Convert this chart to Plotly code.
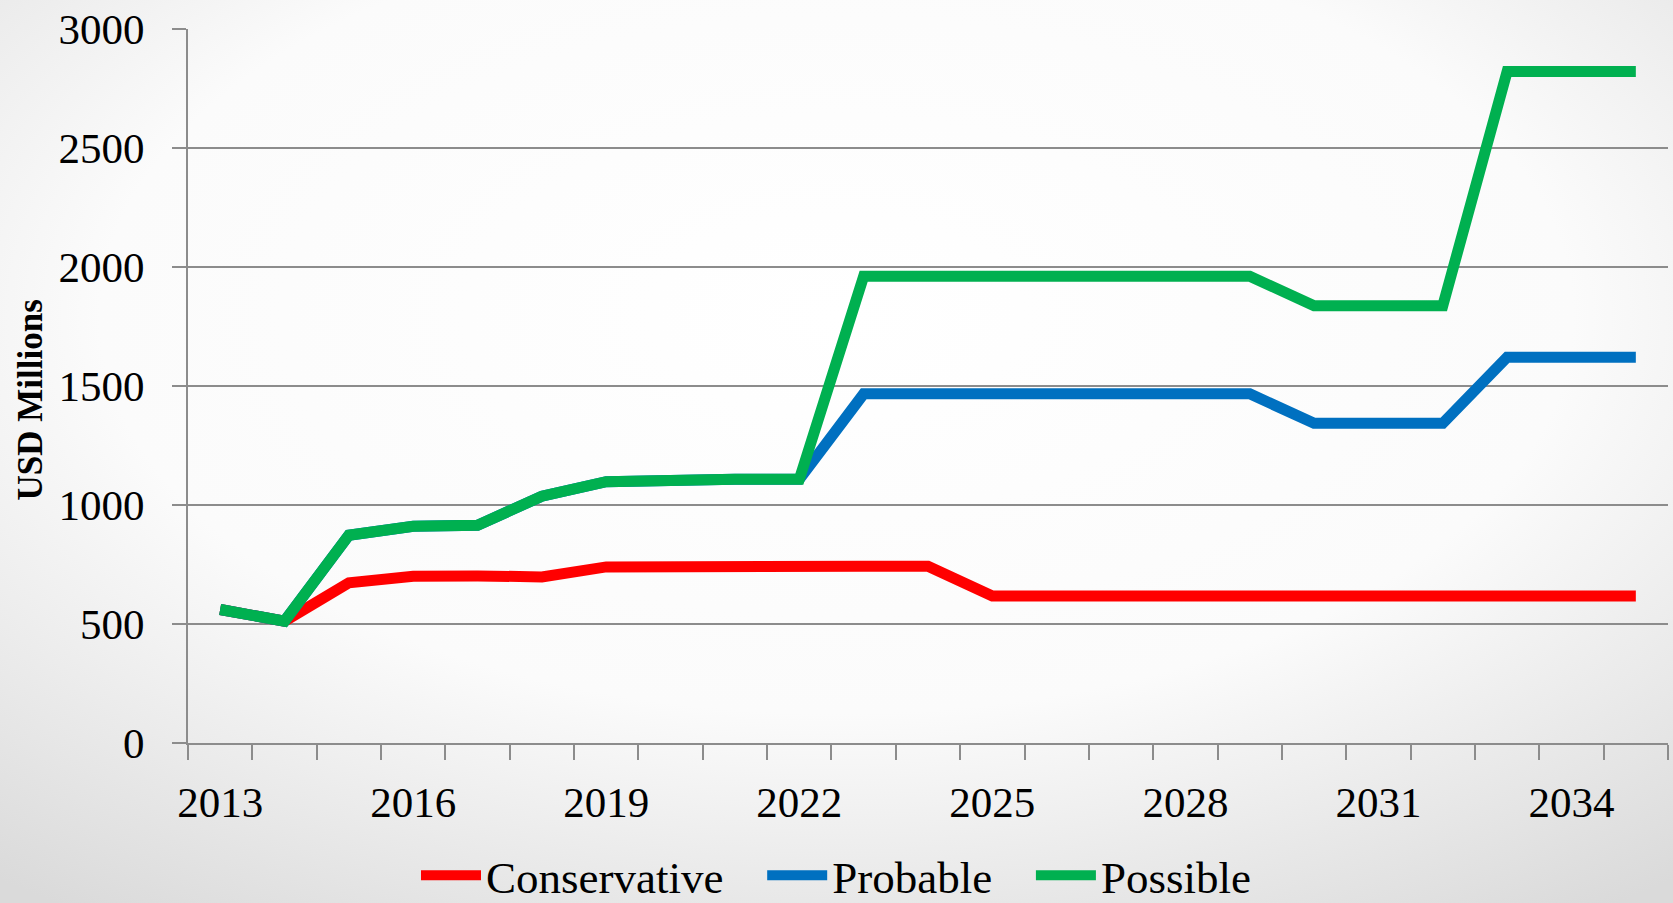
import base64
import plotly.graph_objects as go

years = list(range(2013, 2036))
conservative = [561, 512, 673, 701, 702, 698, 740, 743, 743, 743, 743, 743,
                618, 618, 618, 618, 618, 618, 618, 618, 618, 618, 618]
probable = [561, 512, 873, 911, 915, 1037, 1098, 1108, 1108, 1108, 1467, 1467,
            1467, 1467, 1467, 1467, 1467, 1343, 1343, 1343, 1621, 1621, 1621]
possible = [561, 512, 873, 911, 915, 1037, 1098, 1108, 1108, 1108, 1961, 1961,
            1961, 1961, 1961, 1961, 1961, 1837, 1837, 1837, 2821, 2821, 2821]
tick_years = list(range(2013, 2036, 3))
y_ticks = [0, 500, 1000, 1500, 2000, 2500, 3000]

series = [
    ("Conservative", conservative, "#FF0000"),
    ("Probable", probable, "#0070C0"),
    ("Possible", possible, "#00B050"),
]

FONT = "Liberation Serif"
GRID = "#8c8c8c"
PAD = "\u00a0\u00a0\u00a0"

fig = go.Figure()
for name, vals, col in series:
    fig.add_trace(go.Scatter(x=years, y=vals, name=name + PAD, mode="lines",
                             line=dict(color=col, width=11)))

svg = (
    '<svg xmlns="http://www.w3.org/2000/svg" width="1673" height="903" '
    'preserveAspectRatio="none" viewBox="0 0 1673 903">'
    '<defs><radialGradient id="g" cx="50%" cy="35%" r="80%">'
    '<stop offset="0%" stop-color="#ffffff"/>'
    '<stop offset="55%" stop-color="#fbfbfb"/>'
    '<stop offset="100%" stop-color="#dadada"/>'
    '</radialGradient></defs>'
    '<rect width="1673" height="903" fill="url(#g)"/></svg>'
)
uri = "data:image/svg+xml;base64," + base64.b64encode(svg.encode()).decode()

L, R, T, B = 188, 5, 29, 160
W, H = 1673, 903
pw, ph = W - L - R, H - T - B

fig.update_layout(
    width=W, height=H,
    margin=dict(l=L, r=R, t=T, b=B, autoexpand=False),
    paper_bgcolor="#ffffff",
    plot_bgcolor="rgba(0,0,0,0)",
    font=dict(family=FONT, color="black", size=43),
    showlegend=True,
    legend=dict(orientation="h", x=(416 - L) / pw, xanchor="left",
                y=(742.5 - 875) / ph, yanchor="middle",
                font=dict(family=FONT, size=45), itemwidth=60,
                bgcolor="rgba(0,0,0,0)"),
    images=[dict(source=uri, xref="paper", yref="paper",
                 x=-L / pw, y=1 + T / ph, sizex=W / pw, sizey=H / ph,
                 xanchor="left", yanchor="top", sizing="stretch",
                 layer="below")],
    annotations=[dict(text="<b>USD Millions</b>", textangle=-90,
                      xref="paper", yref="paper",
                      x=(30 - L) / pw, y=(742.5 - 400) / ph,
                      xanchor="center", yanchor="middle",
                      showarrow=False, font=dict(family=FONT, size=35))],
)

fig.update_xaxes(
    range=[2012.5, 2035.5], tickmode="array", tickvals=tick_years,
    ticktext=[str(t) for t in tick_years],
    ticks="outside", ticklen=15, tickcolor="rgba(0,0,0,0)",
    showgrid=False, zeroline=False,
    showline=True, linecolor=GRID, linewidth=2,
    tickfont=dict(family=FONT, size=43),
    ticklabelstandoff=5,
    minor=dict(tickmode="linear", tick0=2012.5, dtick=1, ticks="outside",
               ticklen=15, tickcolor=GRID, tickwidth=2, showgrid=False),
)
fig.update_yaxes(
    range=[0, 3000], tickmode="array", tickvals=y_ticks,
    ticks="outside", ticklen=14, tickcolor=GRID, tickwidth=2,
    showgrid=True, gridcolor=GRID, gridwidth=1.6, zeroline=False,
    showline=True, linecolor=GRID, linewidth=2,
    tickfont=dict(family=FONT, size=43),
    ticklabelstandoff=19,
)

fig.write_html("out.html",
               config={"displayModeBar": False},
               post_script="document.body.style.margin='0px';"
                           "document.body.style.overflow='hidden';")
